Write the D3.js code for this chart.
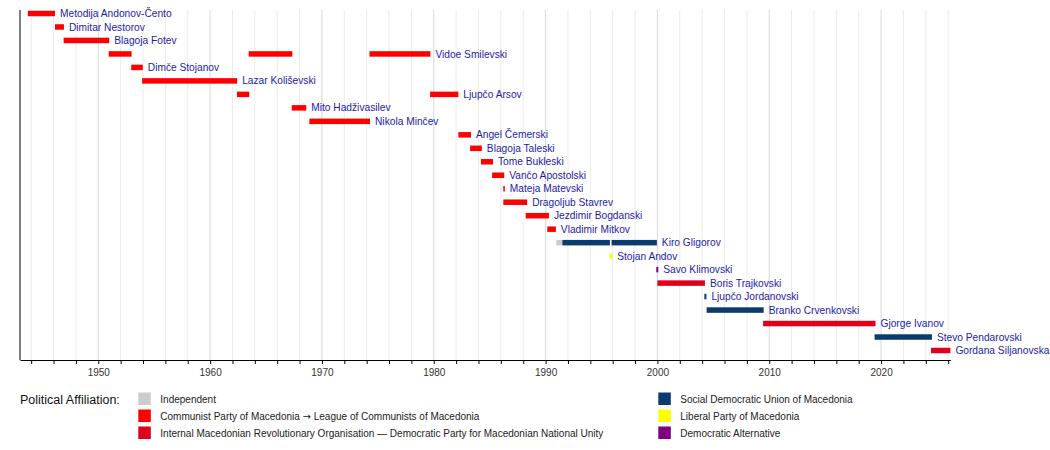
<!DOCTYPE html>
<html>
<head>
<meta charset="utf-8">
<script src="https://cdn.jsdelivr.net/npm/d3@7"></script>
<style>
body { margin: 0; background: #fff; }
text { font-family: "Liberation Sans", Arial, sans-serif; }
</style>
</head>
<body>
<div id="chart"></div>
<script>
// Presidents (one row each, top to bottom)
const presidents = [
    "Metodija Andonov-Čento", "Dimitar Nestorov", "Blagoja Fotev", "Vidoe Smilevski",
    "Dimče Stojanov", "Lazar Koliševski", "Ljupčo Arsov", "Mito Hadživasilev",
    "Nikola Minčev", "Angel Čemerski", "Blagoja Taleski", "Tome Bukleski",
    "Vančo Apostolski", "Mateja Matevski", "Dragoljub Stavrev", "Jezdimir Bogdanski",
    "Vladimir Mitkov", "Kiro Gligorov", "Stojan Andov", "Savo Klimovski",
    "Boris Trajkovski", "Ljupčo Jordanovski", "Branko Crvenkovski", "Gjorge Ivanov",
    "Stevo Pendarovski", "Gordana Siljanovska"
]

// Terms of office (row index, from, till, party index)
const termRow   = [0, 1, 2, 3, 3, 3, 4, 5, 6, 6, 7, 8, 9, 10, 11, 12, 13, 14, 15, 16, 17, 17, 17, 18, 19, 20, 21, 22, 23, 24, 25]
const termFrom  = [1943.7, 1946.13, 1946.9, 1950.93, 1963.45, 1974.25, 1952.95, 1953.92, 1962.4, 1979.67, 1967.3, 1968.88,
                   1982.2, 1983.25, 1984.22, 1985.22, 1986.22, 1986.22, 1988.22, 1990.15, 1990.95, 1991.5, 1995.9,
                   1995.72, 1999.9, 2000.0, 2004.2, 2004.4, 2009.45, 2019.42, 2024.47]
const termTill  = [1946.13, 1946.93, 1950.98, 1952.98, 1967.35, 1979.7, 1953.98, 1962.42, 1963.5, 1982.2, 1968.6, 1974.3,
                   1983.33, 1984.3, 1985.3, 1986.3, 1986.35, 1988.35, 1990.3, 1990.92, 1991.5, 1995.75, 1999.95,
                   1995.96, 2000.08, 2004.25, 2004.38, 2009.5, 2019.5, 2024.55, 2026.2]
const termParty = [1, 1, 1, 1, 1, 1, 1, 1, 1, 1, 1, 1, 1, 1, 1, 1, 1, 1, 1, 1, 0, 3, 3, 4, 5, 2, 3, 3, 2, 3, 2]

// Parties
const partyNames = [
    "Independent",
    "Communist Party of Macedonia \u2192 League of Communists of Macedonia",
    "Internal Macedonian Revolutionary Organisation \u2014 Democratic Party for Macedonian National Unity",
    "Social Democratic Union of Macedonia",
    "Liberal Party of Macedonia",
    "Democratic Alternative"
]
const partyColors = ["#cccccc", "#ff0000", "#e0001c", "#0b3b6e", "#ffff00", "#800080"]

// Axis
const yearStart = 1943
const yearEnd = 2026.2

// ----------------------------------------------------------

const width = 1050
const height = 450
const plot = { left: 20, right: 950.4, top: 10, bottom: 360 }

const svg = d3.select("#chart").append("svg").attr("width", width).attr("height", height)

const x = d3.scaleLinear().domain([yearStart, yearEnd]).range([plot.left, plot.right])
const y = d3.scalePoint().domain(d3.range(presidents.length)).range([13.5, 350.5])
const color = d3.scaleOrdinal().domain(d3.range(partyNames.length)).range(partyColors)

// Rejilla vertical cada 2 años
const gridYears = d3.range(1944, 2027, 2)
svg.append("g").selectAll("line").data(gridYears).enter().append("line")
    .attr("x1", d => x(d)).attr("x2", d => x(d))
    .attr("y1", plot.top).attr("y2", plot.bottom)
    .attr("stroke", d => d % 10 === 0 ? "#d8d8d8" : "#ececec")
    .attr("stroke-width", 1)

// Ejes
svg.append("line")
    .attr("x1", plot.left).attr("x2", plot.left)
    .attr("y1", plot.top).attr("y2", plot.bottom)
    .attr("stroke", "#000")

const xAxis = d3.axisBottom(x)
    .tickValues(gridYears)
    .tickFormat(d => d % 10 === 0 ? d : "")
    .tickSizeInner(4).tickSizeOuter(0)
const gx = svg.append("g").attr("transform", `translate(0,${plot.bottom})`).call(xAxis)
gx.select(".domain").attr("stroke", "#000")
gx.selectAll(".tick line").attr("stroke", "#000")
gx.selectAll(".tick text")
    .attr("dy", "0.3em").attr("y", 13)
    .attr("font-size", 10).attr("fill", "#333")
    .style("font-family", "'Liberation Sans', Arial, sans-serif")

// Barras de los mandatos
const barH = 5.5
const terms = termRow.map((r, i) => ({ row: r, from: termFrom[i], till: termTill[i], party: termParty[i] }))
svg.append("g").selectAll("rect").data(terms).enter().append("rect")
    .attr("x", d => x(d.from))
    .attr("width", d => Math.max(1.5, x(d.till) - x(d.from)))
    .attr("y", d => y(d.row) - barH / 2)
    .attr("height", barH)
    .attr("fill", d => color(d.party))

// Nombres tras el último mandato
const lastEnd = presidents.map((p, i) => d3.max(terms.filter(t => t.row === i), t => t.till))
svg.append("g").selectAll("text").data(presidents).enter().append("text")
    .attr("x", (d, i) => x(lastEnd[i]) + 5)
    .attr("y", (d, i) => y(i))
    .attr("dy", "0.35em")
    .attr("font-size", 10.2)
    .attr("fill", "#1c1caa")
    .text(d => d)

// Leyenda
svg.append("text").attr("x", 20).attr("y", 403.5)
    .attr("font-size", 12.5).attr("fill", "#111")
    .text("Political Affiliation:")

const legend = svg.append("g").selectAll("g").data(partyNames).enter().append("g")
    .attr("transform", (d, i) => `translate(${i < 3 ? 138.3 : 658.3},${392.5 + (i % 3) * 17})`)
legend.append("rect")
    .attr("width", 12.5).attr("height", 12.5)
    .attr("fill", (d, i) => color(i))
const legendText = legend.append("text")
    .attr("x", 22).attr("y", 6.5).attr("dy", "0.35em")
    .attr("font-size", 10).attr("fill", "#222")
// la flecha se ve más grande en el original
legendText.each(function(d) {
    const parts = d.split("\u2192")
    const t = d3.select(this)
    parts.forEach((p, k) => {
        if (k > 0) t.append("tspan").style("font-family", "'DejaVu Sans', sans-serif").text("\u2192")
        t.append("tspan").text(p)
    })
})
</script>
</body>
</html>
